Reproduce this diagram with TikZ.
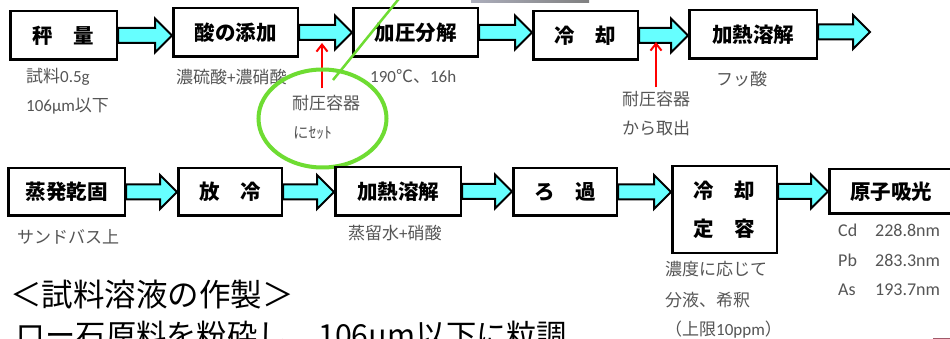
\documentclass[tikz,border=0pt]{standalone}
\usepackage{fontspec}
\setmainfont{Noto Sans CJK JP}
\newfontfamily\lat{Carlito}
\usetikzlibrary{arrows.meta,calc}
\definecolor{cyanfill}{HTML}{66FFFF}
\definecolor{labgray}{HTML}{555555}
\definecolor{ellgreen}{RGB}{110,220,50}
\definecolor{markred}{RGB}{160,90,106}
\tikzset{
  box/.style={draw=black, line width=2.5pt, inner sep=0pt, text=black,
    font=\fontsize{20.5}{24}\selectfont\bfseries},
  lab/.style={inner sep=0pt, text=labgray, anchor=west,
    font=\fontsize{17}{20}\selectfont},
  vallab/.style={inner sep=0pt, text=labgray, anchor=west,
    font=\fontsize{18}{20}\selectfont\lat},
  titlelab/.style={inner sep=0pt, text=black, anchor=west,
    font=\fontsize{30}{34}\selectfont},
  barrow/.style={draw=black, line width=2pt, fill=cyanfill, line join=miter},
  redarr/.style={draw=red, line width=2pt, -{Straight Barb[length=7pt,width=11pt]}},
}
\newcommand\blockarr[3]{%
  \draw[barrow] let \p1=#1, \p2=#2, \p3=#3 in
    (\x1,\y3+7.5pt) -- (\x2-17pt,\y3+7.5pt) -- (\x2-17pt,\y3+17pt) -- (\x2,\y3)
    -- (\x2-17pt,\y3-17pt) -- (\x2-17pt,\y3-7.5pt) -- (\x1,\y3-7.5pt) -- cycle;}
\begin{document}
\begin{tikzpicture}[x=1pt,y=-1pt]
\useasboundingbox (0,0) rectangle (950,339);
\clip (0,0) rectangle (950,339);
\fill[white] (0,0) rectangle (950,339);
% top grey bar
\shade[left color={rgb,255:red,172;green,174;blue,188}, right color={rgb,255:red,128;green,128;blue,128}] (471,0) rectangle (589,3);
% row 1
\node[box, minimum width=106.5, minimum height=48.5] (b1) at (63.5,35.5) {秤　量};
\node[box, minimum width=124.5, minimum height=48.5] (b2) at (235.5,32.5) {酸の添加};
\node[box, minimum width=124.5, minimum height=48.5] (b3) at (415.5,32.5) {加圧分解};
\node[box, minimum width=104.5, minimum height=48.5] (b4) at (585.5,35.5) {冷　却};
\node[box, minimum width=127.5, minimum height=48.5] (b5) at (753,34.5) {加熱溶解};
\coordinate (end1) at (870,32);
\blockarr{(b1.east)}{(b2.west)}{(b1.center)}
\blockarr{(b2.east)}{(b3.west)}{(b2.center)}
\blockarr{(b3.east)}{(b4.west)}{(b3.center)}
\blockarr{(b4.east)}{(b5.west)}{(b4.center)}
\blockarr{(b5.east)}{(end1)}{(end1)}
% row 1 labels
\node[lab] (l1) at (26,77) {試料{\lat 0.5g}};
\node[lab] (l2) at (26,106) {{\lat 106μm}以下};
\node[lab] (l3) at (176,77) {濃硫酸{\lat +}濃硝酸};
\node[lab] (l4) at (370,76) {{\lat 190}℃、{\lat 16h}};
\node[lab] (l5) at (292,103) {耐圧容器};
\node[lab, font=\fontsize{15.5}{18}\selectfont] (l6) at (293,133) {にｾｯﾄ};
\node[lab] (l7) at (622,99) {耐圧容器};
\node[lab] (l8) at (622,128) {から取出};
\node[lab] (l9) at (716,79) {フッ酸};
% red arrows
\coordinate (r1) at (322,43);
\coordinate (r2) at (656,42);
\draw[redarr] ([yshift=6.5pt]l5.north -| r1) -- (r1);
\draw[redarr] ([yshift=3.5pt]l7.north -| r2) -- (r2);
% green annotation
\draw[ellgreen, line width=4pt] (322.5,118.5) ellipse [x radius=64, y radius=49];
\coordinate (g1) at (333,80);
\coordinate (g2) at (406,-10);
\draw[ellgreen, line width=2.5pt] (g1) -- (g2);
% row 2
\node[box, minimum width=116.5, minimum height=47.5] (c1) at (66.5,192) {蒸発乾固};
\node[box, minimum width=103.5, minimum height=47.5] (c2) at (230,192) {放　冷};
\node[box, minimum width=125.5, minimum height=48.5] (c3) at (398,191.5) {加熱溶解};
\node[box, minimum width=103.5, minimum height=47.5] (c4) at (565,192) {ろ　過};
\node[box, minimum width=104.5, minimum height=86.5, align=center,
  font=\fontsize{20.5}{38}\selectfont\bfseries] (c5) at (724.5,209.5) {冷　却\\定　容};
\node[box, minimum width=123.5, minimum height=44.5] (c6) at (891,191.5) {原子吸光};
\blockarr{(c1.east)}{(c2.west)}{(c1.center)}
\blockarr{(c2.east)}{(c3.west)}{(c2.center)}
\blockarr{(c3.east)}{(c4.west)}{(c3.center)}
\blockarr{(c4.east)}{(c5.west)}{(c4.center)}
\blockarr{(c5.east)}{(c6.west)}{(c6.center)}
% row 2 labels
\node[lab] (m1) at (17,237) {サンドバス上};
\node[lab] (m2) at (348,233) {蒸留水{\lat +}硝酸};
\node[lab] (m3) at (665,269) {濃度に応じて};
\node[lab] (m4) at (665,300) {分液、希釈};
\node[lab] (m5) at (665,330) {（上限{\lat 10ppm}）};
\node[vallab] (v1) at (838,230) {\makebox[37pt][l]{Cd}228.8nm};
\node[vallab] (v2) at (838,260) {\makebox[37pt][l]{Pb}283.3nm};
\node[vallab] (v3) at (838,290) {\makebox[37pt][l]{As}193.7nm};
% title text
\node[titlelab, font=\fontsize{31.5}{34}\selectfont] (t1) at (10,295) {＜試料溶液の作製＞};
\node[titlelab, font=\fontsize{30.3}{34}\selectfont] (t2) at (15,337) {ロー石原料を粉砕し、106μm以下に粒調};
% small mark
\draw[markred, line width=1.5pt] (933,338.5) -- (950,338.5);
\end{tikzpicture}
\end{document}
